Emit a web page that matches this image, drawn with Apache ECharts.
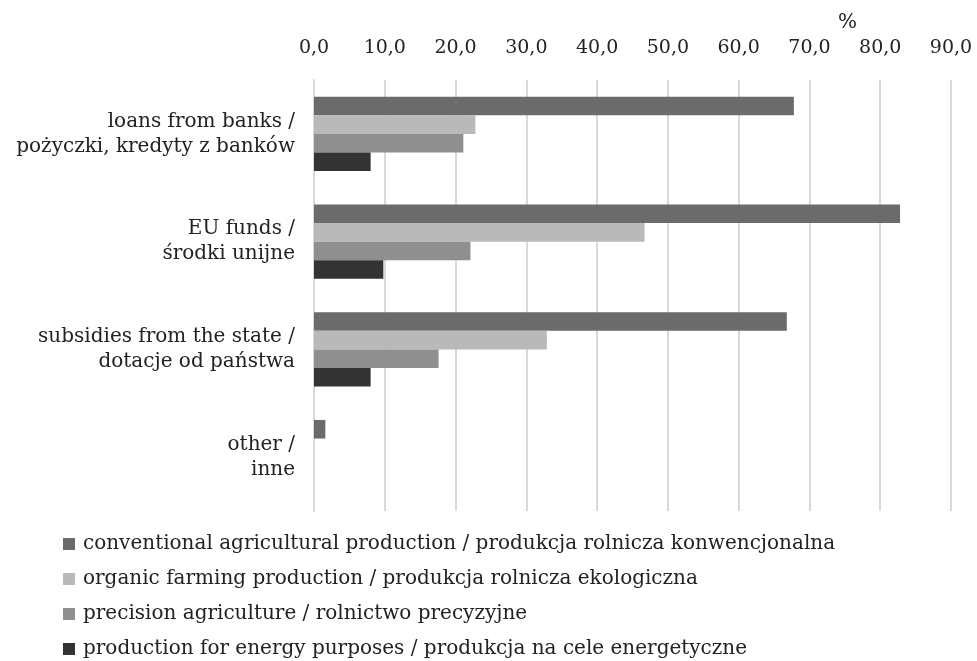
<!DOCTYPE html>
<html>
<head>
<meta charset="utf-8">
<script src="https://cdn.jsdelivr.net/npm/echarts@6/dist/echarts.min.js"></script>
<style>
html, body { margin: 0; padding: 0; background: #fff; }
#chart { width: 977px; height: 661px; }
</style>
</head>
<body>
<div id="chart"></div>
<script>
// categories (top to bottom)
var categories = [
  'loans from banks /\npożyczki, kredyty z banków',
  'EU funds /\nśrodki unijne',
  'subsidies from the state /\ndotacje od państwa',
  'other /\ninne'
];
var seriesNames = [
  'conventional agricultural production / produkcja rolnicza konwencjonalna',
  'organic farming production / produkcja rolnicza ekologiczna',
  'precision agriculture / rolnictwo precyzyjne',
  'production for energy purposes / produkcja na cele energetyczne'
];
var conventional = [67.8, 82.8, 66.8, 1.6];
var organic = [22.8, 46.7, 32.9, 0];
var precision = [21.1, 22.1, 17.6, 0];
var energy = [8.0, 9.8, 8.0, 0];
var colors = ['#6b6b6b', '#b9b9b9', '#8f8f8f', '#333333'];

var fontFamily = 'DejaVu Serif';
var chart = echarts.init(document.getElementById('chart'));

var values = [conventional, organic, precision, energy];
var series = [];
for (var i = 0; i < values.length; i++) {
  series.push({
    name: seriesNames[i],
    type: 'bar',
    data: values[i],
    barGap: '0%',
    barCategoryGap: '31%',
    itemStyle: { color: colors[i] },
    emphasis: { disabled: true }
  });
}

var option = {
  animation: false,
  color: colors,
  textStyle: { fontFamily: fontFamily },
  grid: { left: 314, right: 26, top: 80, bottom: 150, containLabel: false },
  graphic: [{
    type: 'text',
    left: 838,
    top: 13,
    style: { text: '%', fontFamily: fontFamily, fontSize: 20, fill: '#222' }
  }],
  legend: {
    orient: 'vertical',
    left: 63,
    top: 534,
    height: 127,
    padding: 0,
    itemWidth: 12,
    itemHeight: 12,
    itemGap: 15,
    icon: 'rect',
    data: seriesNames,
    textStyle: { fontFamily: fontFamily, fontSize: 20, color: '#222', padding: [0, 0, 0, 3] }
  },
  xAxis: {
    type: 'value',
    position: 'top',
    min: 0,
    max: 90,
    interval: 10,
    axisLine: { show: false },
    axisTick: { show: false },
    splitLine: { lineStyle: { color: '#d9d9d9', width: 2 } },
    axisLabel: {
      margin: 22,
      fontFamily: fontFamily,
      fontSize: 19,
      color: '#222',
      formatter: function (v) { return v.toFixed(1).replace('.', ','); }
    }
  },
  yAxis: {
    type: 'category',
    inverse: true,
    data: categories,
    axisLine: { show: true, lineStyle: { color: '#d9d9d9', width: 2 } },
    axisTick: { show: false },
    axisLabel: {
      margin: 19,
      fontFamily: fontFamily,
      fontSize: 20,
      lineHeight: 25,
      color: '#222',
      align: 'right'
    }
  },
  series: series
};
chart.setOption(option);
</script>
</body>
</html>
